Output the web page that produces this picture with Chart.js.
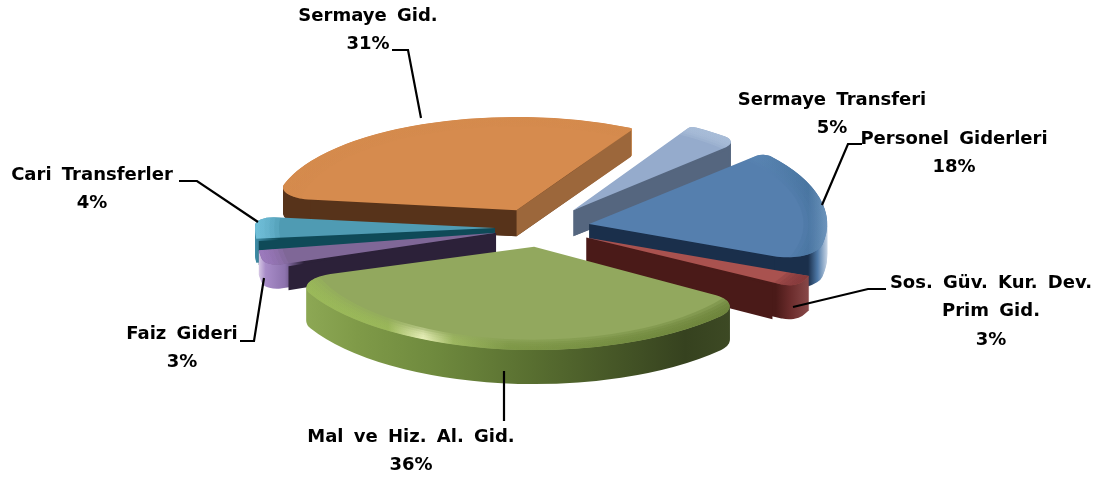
<!DOCTYPE html>
<html><head><meta charset="utf-8">
<style>html,body{margin:0;padding:0;background:#fff}canvas{display:block}</style>
<script src="https://cdn.jsdelivr.net/npm/chart.js@4/dist/chart.umd.min.js"></script>
</head><body><canvas id="c" width="1102" height="482"></canvas>
<script>
const categories = ['Personel Giderleri','Sos. Güv. Kur. Dev. Prim Gid.','Mal ve Hiz. Al. Gid.','Faiz Gideri','Cari Transferler','Sermaye Gid.','Sermaye Transferi'];
const values = [18,3,36,3,4,31,5];
const labelLines = [['Personel Giderleri'],['Sos. Güv. Kur. Dev.','Prim Gid.'],['Mal ve Hiz. Al. Gid.'],['Faiz Gideri'],['Cari Transferler'],['Sermaye Gid.'],['Sermaye Transferi']];

// styling
const explode = [50,52,46,45,45,52,54];
const radii = [238,243,252,240,240,242,232];
const squash = [.44,.40,.41,.50,.45,.385,.42];
const depths = [32,34,34,24,24,26,26];
const corners = [
  {outerStart:10,outerEnd:36},{outerStart:0,outerEnd:20},{outerStart:35,outerEnd:35},
  {outerStart:20,outerEnd:0},{outerStart:0,outerEnd:18},{outerStart:32,outerEnd:4},{outerStart:6,outerEnd:18}
];
const topColors = ['#557FAE','#A9524F','#92A85E','#7F6797','#4F9BB3','#D68B4E','#95ABCC'];
const faceStart = ['#1A2F4B','#4A1A18','#55692F','#2C2139','#0F4A58','#57331A','#5A6E8C'];
const faceEnd   = ['#1A2F4B','#4A1A18','#55692F','#2C2139','#0F4A58','#9C673B','#55667F'];
const rimStops = [
  [[.92,'#1A2F4B'],[.96,'#4F7AA8'],[1,'#C5D3E4']],
  [[.78,'#4A1A18'],[.84,'#6B2C2C'],[.92,'#8A4A4A'],[1,'#9A6060']],
  [[-1,'#93AE5A'],[-.7,'#7F9A48'],[-.4,'#6F8A3E'],[0,'#586E30'],[.6,'#36421F'],[1,'#45522A']],
  [[-1,'#E8DFF0'],[-.96,'#A88CC8'],[-.88,'#8D73AE'],[-.8,'#2C2139'],[0,'#2C2139']],
  [[-1,'#3F8CA6'],[-.9,'#0F4A58'],[0,'#0F4A58']],
  [[-1,'#57331A'],[.2,'#57331A'],[.35,'#9C673B'],[.5,'#C47E3F'],[1,'#C47E3F']],
  [[-1,'#55667F'],[1,'#55667F']]
];
const ringStops = [
  [[0,'#5C88B6'],[.7,'#5A85B2'],[.92,'#48749F'],[1,'#6F96BD']],
  [[.6,'#A9524F'],[.8,'#8A3D3E'],[1,'#7A3336']],
  [[-1,'#9ABA58'],[-.58,'#9AB858'],[-.44,'#EEF4C0'],[-.32,'#9DB860'],[-.1,'#7C9645'],[.5,'#6E863C'],[1,'#667C36']],
  [[-1,'#A07CC2'],[-.8,'#8A6FA8'],[0,'#7F6797']],
  [[-1,'#74C2DC'],[-.8,'#57A6BF'],[0,'#4F9BB3']],
  [[-1,'#D48A4D'],[1,'#D48A4D']],
  [[-1,'#A9BDD8'],[1,'#A9BDD8']]
];
const drawOrder = [5,6,0,4,3,1,2];
const centreX = 540, centreY = 228;

const leaders = [
  [[862,144],[848,144],[822,205]],
  [[886,289],[868,289],[793,307]],
  [[504,371],[504,421]],
  [[240,341],[254,341],[264,278]],
  [[179,181],[197,181],[258,222]],
  [[392,50],[408,50],[421,118]],
  []
];
const labelAnchor = [[954,139],[991,283],[411,437],[182,334],[92,175],[368,16],[832,100]];
const lineStep = 28.5;

const fix = a => 1 - Math.sin(Math.min(Math.PI, a.circumference || 0));
const off = a => (a.options.offset || 0) / 4;
function paint(ctx, a, fill, inner) {
  const o = a.options, ir = a.innerRadius;
  const over = {backgroundColor: fill};
  if (inner) over.borderRadius = 0;
  a.options = Object.assign({}, o, over);
  a.innerRadius = inner ? inner - off({options:o}) * fix(a) : 0;
  a.draw(ctx);
  a.options = o; a.innerRadius = ir;
}
function linear(ctx, a, R, stops) {
  const g = ctx.createLinearGradient(a.x - R, 0, a.x + R, 0);
  stops.forEach(s => g.addColorStop((s[0] + 1) / 2, s[1]));
  return g;
}
const pie3d = {
  id: 'pie3d',
  afterDatasetsUpdate(chart) {
    chart.getDatasetMeta(0).data.forEach((a, i) => {
      a.outerRadius = radii[i] - off(a) * fix(a);
    });
  },
  beforeDatasetDraw(chart) {
    const ctx = chart.ctx, arcs = chart.getDatasetMeta(0).data;
    const layer = document.createElement('canvas');
    layer.width = chart.width; layer.height = chart.height;
    const lc = layer.getContext('2d');
    drawOrder.forEach(i => {
      const a = arcs[i], k = squash[i], R = radii[i], depth = depths[i];
      const d = off(a), h = (a.startAngle + a.endAngle) / 2;
      const ax = a.x + Math.cos(h) * d, ay = a.y + Math.sin(h) * d;
      ctx.save();
      ctx.translate(centreX, centreY); ctx.scale(1, k); ctx.translate(-a.x, -a.y);
      const dz = depth / k;
      const rim = linear(ctx, a, R, rimStops[i]);
      for (let j = depth; j > 0; j--) {
        ctx.save(); ctx.translate(0, j / k); paint(ctx, a, rim); ctx.restore();
      }
      [[a.startAngle, -Math.PI / 2, faceStart[i], corners[i].outerStart], [a.endAngle, Math.PI / 2, faceEnd[i], corners[i].outerEnd]].forEach(e => {
        if (Math.sin(e[0] + e[1]) <= 0) return;
        const len = R - e[3] - 2;
        const ex = ax + Math.cos(e[0]) * len, ey = ay + Math.sin(e[0]) * len;
        ctx.fillStyle = e[2];
        ctx.beginPath();
        ctx.moveTo(ax, ay); ctx.lineTo(ex, ey); ctx.lineTo(ex, ey + dz); ctx.lineTo(ax, ay + dz);
        ctx.closePath(); ctx.fill();
      });
      paint(ctx, a, topColors[i]);
      ctx.restore();
      // soft bevel: rings painted on a layer, trimmed to the rounded slice
      lc.setTransform(1, 0, 0, 1, 0, 0);
      lc.globalCompositeOperation = 'source-over';
      lc.clearRect(0, 0, layer.width, layer.height);
      lc.translate(centreX, centreY); lc.scale(1, k); lc.translate(-a.x, -a.y);
      const ring = linear(lc, a, R, ringStops[i]);
      lc.globalAlpha = .38;
      [.90,.92,.94,.96,.98].forEach(f => paint(lc, a, ring, R * f));
      lc.globalAlpha = 1;
      lc.globalCompositeOperation = 'destination-in';
      paint(lc, a, '#000');
      ctx.drawImage(layer, 0, 0);
    });
    return false;
  },
  afterDraw(chart) {
    const ctx = chart.ctx;
    ctx.save();
    ctx.strokeStyle = '#000'; ctx.lineWidth = 2.2; ctx.lineJoin = 'miter';
    leaders.forEach(l => {
      if (!l.length) return;
      ctx.beginPath();
      l.forEach((p, n) => n ? ctx.lineTo(p[0], p[1]) : ctx.moveTo(p[0], p[1]));
      ctx.stroke();
    });
    ctx.fillStyle = '#000'; ctx.textAlign = 'center'; ctx.textBaseline = 'middle';
    ctx.font = 'bold 18px "DejaVu Sans", sans-serif';
    ctx.wordSpacing = '4px';
    const total = values.reduce((s, v) => s + v, 0);
    labelLines.forEach((lines, i) => {
      const all = lines.concat(Math.round(values[i] / total * 100) + '%');
      all.forEach((t, n) => ctx.fillText(t, labelAnchor[i][0], labelAnchor[i][1] + n * lineStep));
    });
    ctx.restore();
  }
};
new Chart(document.getElementById('c'), {
  type: 'pie',
  data: { labels: categories, datasets: [{ data: values, backgroundColor: topColors, borderWidth: 0, borderRadius: corners, offset: explode.map(v => v * 4) }] },
  options: {
    responsive: false, animation: false, rotation: 47, radius: 240,
    layout: { padding: 0 },
    plugins: { legend: { display: false }, tooltip: { enabled: false } }
  },
  plugins: [pie3d]
});
</script></body></html>
